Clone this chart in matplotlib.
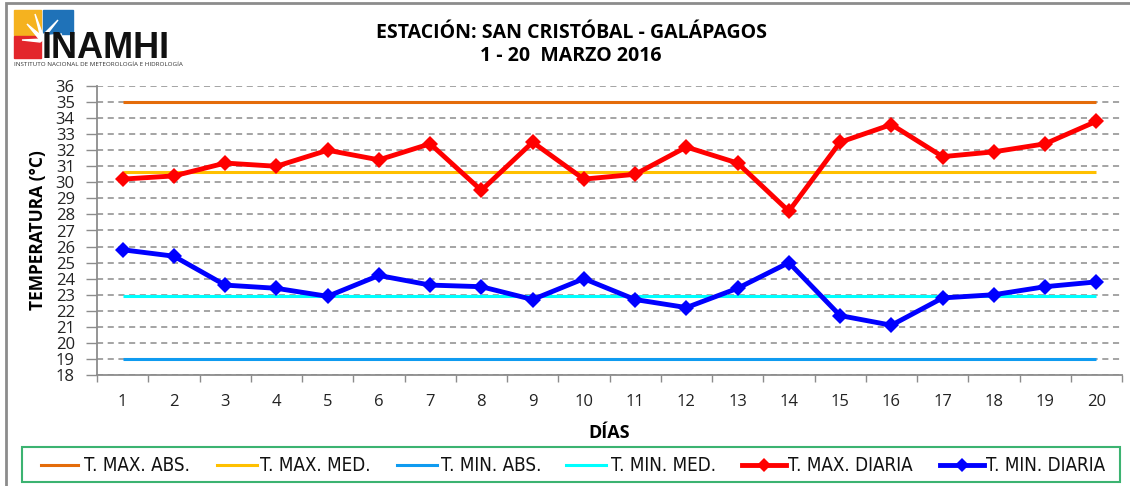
import matplotlib
matplotlib.use("Agg")
import matplotlib.pyplot as plt
from matplotlib.patches import Rectangle, Polygon
from matplotlib.lines import Line2D

days = list(range(1, 21))
t_max_diaria = [30.2, 30.4, 31.2, 31.0, 32.0, 31.4, 32.4, 29.5, 32.5, 30.2,
                30.5, 32.2, 31.2, 28.2, 32.5, 33.6, 31.6, 31.9, 32.4, 33.8]
t_min_diaria = [25.8, 25.4, 23.6, 23.4, 22.9, 24.2, 23.6, 23.5, 22.7, 24.0,
                22.7, 22.2, 23.4, 25.0, 21.7, 21.1, 22.8, 23.0, 23.5, 23.8]
t_max_abs = 35.0
t_max_med = 30.65
t_min_abs = 19.0
t_min_med = 22.9
y_ticks = list(range(18, 37))
series_labels = ['T. MAX. ABS.', 'T. MAX. MED.', 'T. MIN. ABS.', 'T. MIN. MED.',
                 'T. MAX. DIARIA', 'T. MIN. DIARIA']

W, H = 1130, 486
fig = plt.figure(figsize=(W / 100, H / 100), dpi=100)
FONT = ['Open Sans', 'DejaVu Sans']

def fx(x):
    return x / W

def fy(y):
    return 1 - y / H

# outer frame
fig.patches.append(Rectangle((fx(6), fy(700)), fx(1300), 697 / H,
                             transform=fig.transFigure, fill=False,
                             edgecolor='#8c8c8c', lw=2.0))

ax = fig.add_axes([fx(97), fy(375), fx(1122) - fx(97), fy(86) - fy(375)])

colors = ['#e46c0a', '#ffc000', '#0f9bf0', '#00ffff', '#ff0000', '#0000ff']
line_kw = dict(lw=2.2, solid_capstyle='butt')
ax.plot(days, [t_max_abs] * len(days), color=colors[0], **line_kw)
ax.plot(days, [t_max_med] * len(days), color=colors[1], **line_kw)
ax.plot(days, [t_min_abs] * len(days), color=colors[2], **line_kw)
ax.plot(days, [t_min_med] * len(days), color=colors[3], **line_kw)
ax.plot(days, t_max_diaria, color=colors[4], lw=3.5, marker='D', markersize=8,
        markeredgewidth=0)
ax.plot(days, t_min_diaria, color=colors[5], lw=3.5, marker='D', markersize=8,
        markeredgewidth=0)

ax.set_xlim(0.5, 20.5)
ax.set_ylim(18, 36)
ax.set_yticks(y_ticks)
ax.set_yticklabels([str(v) for v in y_ticks], fontsize=12, family=FONT, color='#222222')
ax.set_xticks(days)
ax.set_xticklabels([str(d) for d in days], fontsize=12, family=FONT, color='#222222')
ax.set_xticks([d + 0.5 for d in [0] + days], minor=True)
ax.tick_params(axis='x', which='major', length=0, pad=14)
ax.tick_params(axis='x', which='minor', length=5, color='#8c8c8c', width=1)
ax.tick_params(axis='y', length=8, color='#8c8c8c', width=1, pad=8)
ax.yaxis.grid(True, linestyle=(0, (4, 3)), color='#8c8c8c', lw=1.1)
ax.set_axisbelow(True)
for s in ['top', 'right']:
    ax.spines[s].set_visible(False)
for s in ['left', 'bottom']:
    ax.spines[s].set_color('#8c8c8c')
    ax.spines[s].set_linewidth(1.3)

ax.set_ylabel('TEMPERATURA (°C)', fontsize=12.5, fontweight='bold', family=FONT, labelpad=6)
ax.set_xlabel('DÍAS', fontsize=13, fontweight='bold', family=FONT, labelpad=10)

fig.text(fx(571), fy(33), 'ESTACIÓN: SAN CRISTÓBAL - GALÁPAGOS', ha='center', va='center',
         fontsize=14, fontweight='bold', family=FONT)
fig.text(fx(571), fy(56), '1 - 20  MARZO 2016', ha='center', va='center',
         fontsize=14, fontweight='bold', family=FONT)

# legend (manual layout)
fig.patches.append(Rectangle((fx(22), fy(482)), fx(1120) - fx(22), 35 / H,
                             transform=fig.transFigure, fill=False,
                             edgecolor='#3cb371', lw=1.5))
leg_line_x = [(41, 78), (217, 257), (397, 437), (566, 606), (742, 786), (940, 984)]
leg_text_x = [84, 260, 441, 611, 788, 986]
leg_y = 465
for i, lab in enumerate(series_labels):
    x0, x1 = leg_line_x[i]
    if i >= 4:
        fig.lines.append(Line2D([fx(x0), fx(x1)], [fy(leg_y), fy(leg_y)],
                                transform=fig.transFigure, color=colors[i], lw=3.5))
        fig.lines.append(Line2D([fx((x0 + x1) / 2)], [fy(leg_y)], transform=fig.transFigure,
                                color=colors[i], marker='D', markersize=7, markeredgewidth=0))
    else:
        fig.lines.append(Line2D([fx(x0), fx(x1)], [fy(leg_y), fy(leg_y)],
                                transform=fig.transFigure, color=colors[i], lw=2.2))
    fig.text(fx(leg_text_x[i]), fy(leg_y), lab, ha='left', va='center', fontsize=13.5,
             family=['DejaVu Sans'], fontstretch='condensed', color='#111111')

# logo
fig.patches.append(Rectangle((fx(14), fy(35)), fx(27), 25 / H, transform=fig.transFigure,
                             color='#f5b21f', zorder=5))
fig.patches.append(Rectangle((fx(43), fy(34)), fx(30), 24 / H, transform=fig.transFigure,
                             color='#1f72b8', zorder=5))
fig.patches.append(Rectangle((fx(14), fy(58)), fx(27), 22 / H, transform=fig.transFigure,
                             color='#e3262b', zorder=5))
for pts in [[(27, 24), (44, 38), (40, 40)], [(35, 14), (44, 38), (41, 38)],
            [(58, 20), (44, 38), (43, 35)], [(62, 34), (44, 39), (44, 36)],
            [(22, 40), (44, 39), (40, 42)]]:
    fig.patches.append(Polygon([(fx(a), fy(b)) for a, b in pts], closed=True,
                               transform=fig.transFigure, color='white', zorder=6))
fig.text(fx(42), fy(57.5), 'INAMHI', ha='left', va='baseline', fontsize=26, fontweight='bold',
         family=['Liberation Sans', 'DejaVu Sans'], color='#111111', zorder=7)
fig.text(fx(14), fy(64), 'INSTITUTO NACIONAL DE METEOROLOGÍA E HIDROLOGÍA', ha='left',
         va='center', fontsize=4.5, family=FONT, color='#333333', zorder=7)

fig.savefig('out.png', dpi=100)
